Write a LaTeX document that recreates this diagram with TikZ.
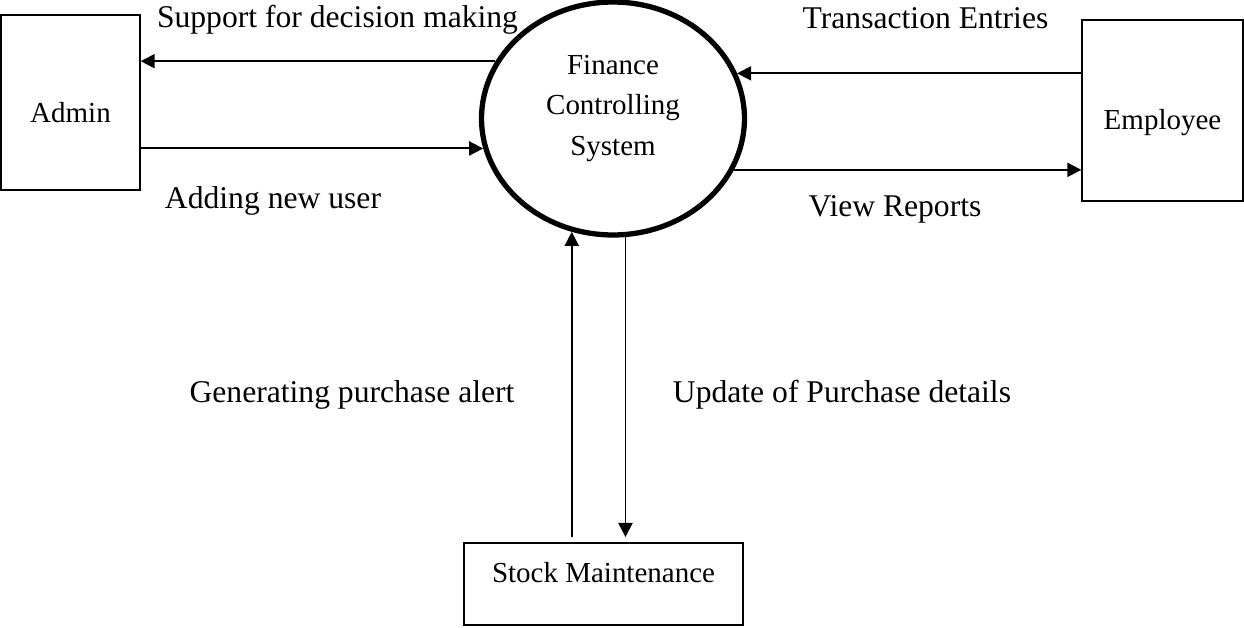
\documentclass[tikz,border=0pt]{standalone}
\usepackage{fontspec}
\setmainfont{Liberation Serif}
\usepackage{tikz}
\usetikzlibrary{arrows.meta, calc, positioning, shapes}

\tikzset{
  entity/.style={draw, line width=.8pt, rectangle, inner sep=0pt},
  process/.style={draw, line width=3pt, ellipse, inner sep=0pt,
    minimum width=5.26cm, minimum height=4.66cm},
  boxtext/.style={inner sep=0pt, align=center, font=\fontsize{16.5}{22.8}\selectfont},
  flow/.style={line width=1.1pt, -{Triangle[length=8pt,width=8pt]}},
  flowlabel/.style={anchor=base, inner sep=0pt, font=\fontsize{18}{22}\selectfont}
}

\begin{document}
\begin{tikzpicture}[x=0.02cm, y=0.02cm]
		\useasboundingbox (0,0) rectangle (1244,627);
		% external entities and the process
		\node[entity, minimum width=2.78cm, minimum height=3.5cm] (admin) at (70.5,524.5) {};
		\node[entity, minimum width=3.22cm, minimum height=3.62cm] (employee) at (1162.5,516.5) {};
		\node[entity, minimum width=5.58cm, minimum height=1.64cm] (stock) at (603.5,43) {};
		\node[process] (fcs) at (613,508.5) {};

		\node[boxtext] (admintext) at ([yshift=-0.2cm]admin.center) {Admin};
		\node[boxtext] (employeetext) at ([yshift=-0.24cm]employee.center) {Employee};
		\node[boxtext] (stocktext) at ([yshift=0.22cm]stock.center) {Stock Maintenance};
		\node[boxtext] (fcstext) at ([yshift=0.2cm]fcs.center) {Finance\\Controlling\\System};

		% data flows
		\draw[flow] (fcs.154) -- (fcs.154 -| admin.east);
		\draw[flow] (fcs.193 -| admin.east) -- (fcs.193);
		\draw[flow] (fcs.20 -| employee.west) -- (fcs.20);
		\draw[flow] (fcs.-23) -- (fcs.-23 -| employee.west);
		\draw[flow, shorten <=3pt] (fcs.250 |- stock.north) -- (fcs.250);
		\draw[flow, shorten >=3pt] (fcs.276) -- (fcs.276 |- stock.north);

		% flow labels
		\node[flowlabel] (support) at (337.5,600) {Support for decision making};
		\node[flowlabel] (adduser) at (273,419) {Adding new user};
		\node[flowlabel] (entries) at (925.5,599) {Transaction Entries};
		\node[flowlabel] (reports) at (895,411) {View Reports};
		\node[flowlabel] (alert) at (352,225) {Generating purchase alert};
		\node[flowlabel] (update) at (842,225) {Update of Purchase details};
	\end{tikzpicture}
\end{document}
